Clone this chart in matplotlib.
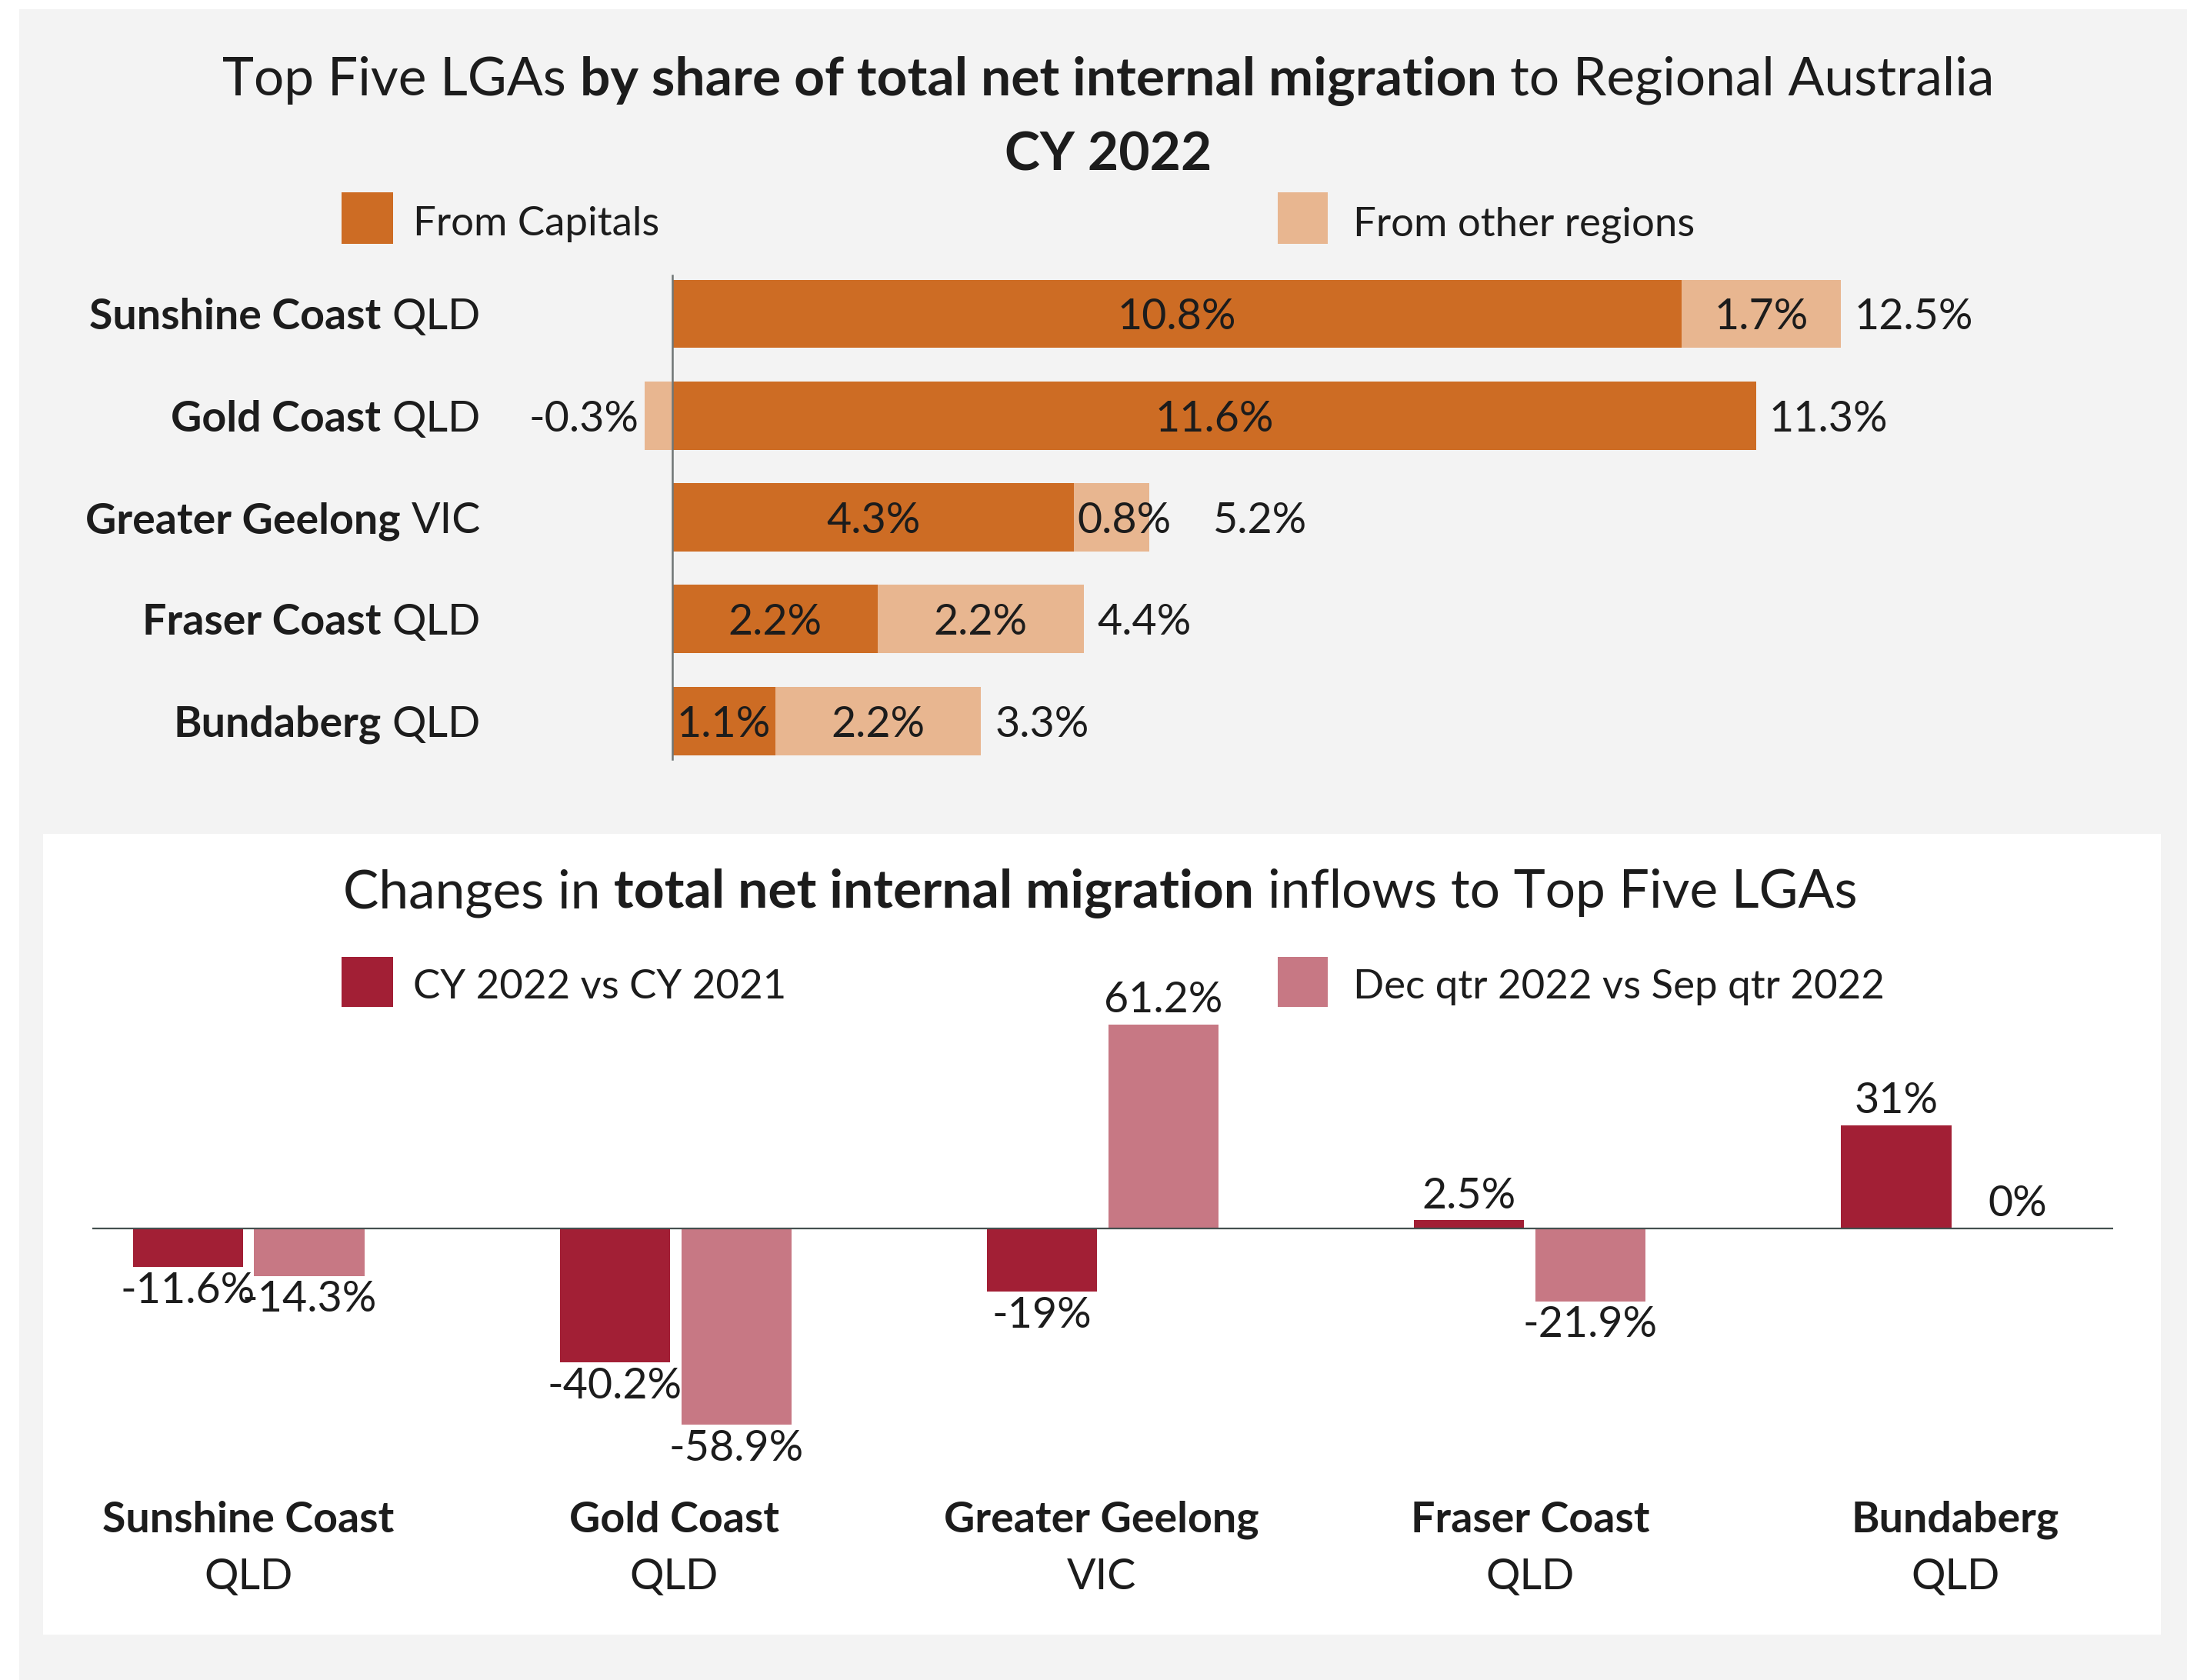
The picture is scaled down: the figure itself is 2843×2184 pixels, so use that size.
import matplotlib
matplotlib.use("Agg")
import matplotlib.pyplot as plt
from matplotlib.patches import Rectangle

plt.rcParams['font.family'] = ['Lato', 'DejaVu Sans']

# data
lgas = ['Sunshine Coast', 'Gold Coast', 'Greater Geelong', 'Fraser Coast', 'Bundaberg']
states = ['QLD', 'QLD', 'VIC', 'QLD', 'QLD']
from_capitals = [10.8, 11.6, 4.3, 2.2, 1.1]
from_regions = [1.7, -0.3, 0.8, 2.2, 2.2]
totals = [12.5, 11.3, 5.2, 4.4, 3.3]

cy_change = [-11.6, -40.2, -19, 2.5, 31]
qtr_change = [-14.3, -58.9, 61.2, -21.9, 0]

# colours
c_cap = '#CD6C24'
c_reg = '#E8B690'
c_cy = '#A21F35'
c_qtr = '#C77884'
c_txt = '#1c1c1c'
c_bg = '#F3F3F3'

W, H = 2843, 2184
DPI = 200
fig = plt.figure(figsize=(W / DPI, H / DPI), dpi=DPI, facecolor='white')

FS_TITLE = 25
FS_LEG = 19
FS_LAB = 20


def X(px):
    return px / W


def Y(py):
    return 1 - py / H


def box(x0, y0, x1, y1, color):
    fig.add_artist(Rectangle((X(x0), Y(y1)), X(x1) - X(x0), Y(y0) - Y(y1),
                             transform=fig.transFigure, color=color, lw=0, zorder=0))


# backgrounds
box(25, 12, W, H, c_bg)
box(56, 1084, 2809, 2125, 'white')

r = fig.canvas.get_renderer()


def px_width(t):
    return t.get_window_extent(r).width


def rich(x, y, parts, size, ha='center'):
    # parts: list of (text, weight); placed side by side with a space between
    texts = [fig.text(0, Y(y), s, fontsize=size, fontweight=w, color=c_txt,
                      va='center_baseline', ha='left') for s, w in parts]
    t1 = fig.text(0, 0, 'xx', fontsize=size)
    t2 = fig.text(0, 0, 'x x', fontsize=size)
    sp = px_width(t2) - px_width(t1)
    t1.remove()
    t2.remove()
    widths = [px_width(t) for t in texts]
    total = sum(widths) + sp * (len(widths) - 1)
    if ha == 'center':
        start = x - total / 2
    elif ha == 'right':
        start = x - total
    else:
        start = x
    for t, w in zip(texts, widths):
        t.set_x(X(start))
        start += w + sp


# ---- top chart ----
rich(1441, 98, [('Top Five LGAs', 'normal'),
                ('by share of total net internal migration', 'bold'),
                ('to Regional Australia', 'normal')], FS_TITLE)
fig.text(X(1441), Y(196), 'CY 2022', fontsize=FS_TITLE, fontweight='bold',
         color=c_txt, ha='center', va='center_baseline')

box(444, 250, 511, 317, c_cap)
fig.text(X(537), Y(287), 'From Capitals', fontsize=FS_LEG, color=c_txt, va='center_baseline')
box(1661, 250, 1726, 317, c_reg)
fig.text(X(1759), Y(287), 'From other regions', fontsize=FS_LEG, color=c_txt, va='center_baseline')

row_top = 408
row_step = 132.3
ax = fig.add_axes([X(800), Y(1010), X(2700) - X(800), Y(340) - Y(1010)])
ax.set_facecolor('none')
ax.set_xlim(-0.609, 15.03)
ax.set_ylim((1010 - row_top) / row_step, (340 - row_top) / row_step)
ax.axis('off')

rows = list(range(len(lgas)))
bh = 0.672
ax.barh(rows, from_capitals, height=bh, color=c_cap, zorder=2)
reg_left = [c if v > 0 else 0 for c, v in zip(from_capitals, from_regions)]
ax.barh(rows, from_regions, left=reg_left, height=bh, color=c_reg, zorder=2)
ax.plot([0, 0], [-0.38, 4.38], color='#6f7575', lw=0.9, zorder=3)

inv = ax.transData.inverted()


def data_w(t):
    bb = t.get_window_extent(r)
    a = inv.transform((bb.x0, 0))[0]
    b = inv.transform((bb.x1, 0))[0]
    return b - a


for i in rows:
    cap, reg, tot = from_capitals[i], from_regions[i], totals[i]
    ax.text(cap / 2, i, f'{cap:g}%', fontsize=FS_LAB, color=c_txt, ha='center',
            va='center_baseline', zorder=4)
    end = cap + max(reg, 0)
    if reg < 0:
        ax.text(reg - 0.06, i, f'{reg:g}%', fontsize=FS_LAB, color=c_txt, ha='right',
                va='center_baseline', zorder=4)
        right = end
        gap = 0.13
    else:
        t = ax.text(cap + reg / 2, i, f'{reg:g}%', fontsize=FS_LAB, color=c_txt, ha='center',
                    va='center_baseline', zorder=4)
        lw = data_w(t)
        right = end
        gap = 0.15
        if lw > reg * 0.95:
            t.set_ha('left')
            t.set_x(cap + 0.03)
            right = cap + 0.03 + lw
            gap = 0.45
    ax.text(right + gap, i, f'{tot:g}%', fontsize=FS_LAB, color=c_txt, ha='left',
            va='center_baseline', zorder=4)

    rich(625, row_top + row_step * i, [(lgas[i], 'bold'), (states[i], 'normal')], FS_LAB, ha='right')

# ---- bottom chart ----
rich(1430, 1155, [('Changes in', 'normal'),
                  ('total net internal migration', 'bold'),
                  ('inflows to Top Five LGAs', 'normal')], FS_TITLE)

box(444, 1244, 511, 1309, c_cy)
fig.text(X(537), Y(1279), 'CY 2022 vs CY 2021', fontsize=FS_LEG, color=c_txt, va='center_baseline')
box(1661, 1244, 1726, 1309, c_qtr)
fig.text(X(1759), Y(1279), 'Dec qtr 2022 vs Sep qtr 2022', fontsize=FS_LEG, color=c_txt,
         va='center_baseline')

base_y = 1597
scale = 4.33
ax2 = fig.add_axes([X(120), Y(1910), X(2747) - X(120), Y(1310) - Y(1910)])
ax2.set_facecolor('none')
ax2.set_xlim(-0.366, 4.366)
ax2.set_ylim(-(1910 - base_y) / scale, (base_y - 1310) / scale)
ax2.axis('off')

bw = 0.258
off = 0.142
xs = list(range(len(lgas)))
ax2.bar([x - off for x in xs], cy_change, width=bw, color=c_cy, zorder=2)
ax2.bar([x + off for x in xs], qtr_change, width=bw, color=c_qtr, zorder=2)
ax2.axhline(0, color='#44504f', lw=0.8, zorder=3)

for vals, dx in ((cy_change, -off), (qtr_change, off)):
    for x, v in zip(xs, vals):
        if v >= 0:
            ax2.annotate(f'{v:g}%', (x + dx, v), xytext=(0, 2), textcoords='offset points',
                         fontsize=FS_LAB, color=c_txt, ha='center', va='bottom', zorder=4)
        else:
            ax2.annotate(f'{v:g}%', (x + dx, v), xytext=(0, -2), textcoords='offset points',
                         fontsize=FS_LAB, color=c_txt, ha='center', va='top', zorder=4)

centers = [323, 876, 1432, 1989, 2542]
for cx, name, st in zip(centers, lgas, states):
    fig.text(X(cx), Y(1971), name, fontsize=FS_LAB, fontweight='bold', color=c_txt,
             ha='center', va='center_baseline')
    fig.text(X(cx), Y(2045), st, fontsize=FS_LAB, color=c_txt, ha='center', va='center_baseline')

fig.savefig('out.png', dpi=DPI, facecolor='white')
